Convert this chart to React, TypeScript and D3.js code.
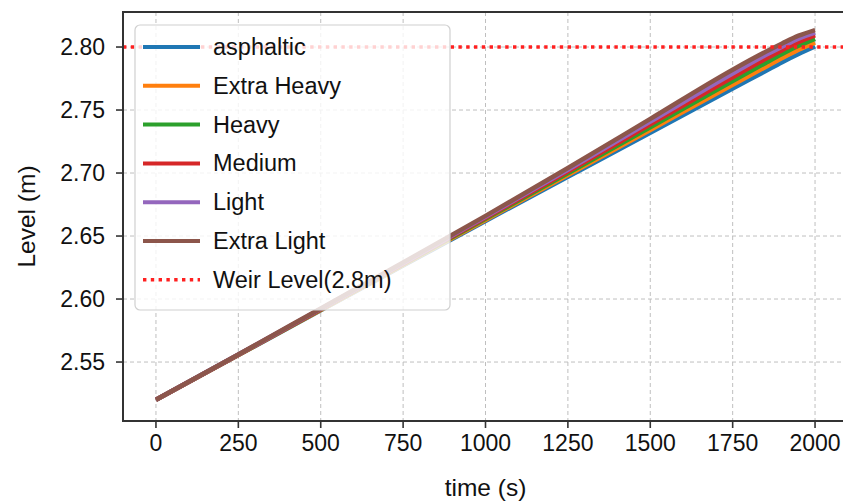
import React from "react";
import * as d3 from "d3";

const times = [0, 250, 500, 750, 1000, 1250, 1500, 1750, 1850, 1900, 1950, 2000];
const asphaltic = [2.520, 2.5555, 2.591, 2.6265, 2.662, 2.697, 2.732, 2.767, 2.781, 2.788, 2.7945, 2.8005];
const extraHeavy = [2.520, 2.5556, 2.5913, 2.627, 2.6628, 2.6984, 2.7342, 2.770, 2.7842, 2.7912, 2.7978, 2.8035];
const heavy = [2.520, 2.5557, 2.5916, 2.6275, 2.6636, 2.6998, 2.7364, 2.773, 2.7874, 2.7944, 2.801, 2.8065];
const medium = [2.520, 2.5558, 2.5919, 2.628, 2.6644, 2.7012, 2.7386, 2.776, 2.7906, 2.7975, 2.804, 2.8092];
const light = [2.520, 2.5559, 2.5922, 2.6285, 2.6652, 2.7026, 2.7408, 2.779, 2.7936, 2.8003, 2.8067, 2.8115];
const extraLight = [2.520, 2.556, 2.5925, 2.629, 2.666, 2.704, 2.743, 2.782, 2.7962, 2.8028, 2.809, 2.8135];

const seriesNames = ["asphaltic", "Extra Heavy", "Heavy", "Medium", "Light", "Extra Light"];
const seriesValues = [asphaltic, extraHeavy, heavy, medium, light, extraLight];
const seriesColors = ["#1f77b4", "#ff7f0e", "#2ca02c", "#d62728", "#9467bd", "#8c564b"];
const weirLevel = 2.8;
const weirLabel = "Weir Level(2.8m)";

const xTicks = [0, 250, 500, 750, 1000, 1250, 1500, 1750, 2000];
const yTicks = [2.55, 2.6, 2.65, 2.7, 2.75, 2.8];

const W = 843, H = 501;
const L = 123, R = 848, T = 12, B = 421;
const FONT = "'Liberation Sans', Arial, Helvetica, sans-serif";

export default function App() {
  const x = d3.scaleLinear().domain([-100, 2100]).range([L, R]);
  const y = d3.scaleLinear().domain([2.5032, 2.8278]).range([B, T]);
  const line = d3
    .line<[number, number]>()
    .x((d) => x(d[0]))
    .y((d) => y(d[1]))
    .curve(d3.curveMonotoneX);

  const legX = 135, legY = 25, legW = 315, legH = 285;
  const rowY0 = 47, rowStep = 38.8;

  return (
    <svg width={W} height={H} style={{ position: "absolute", left: 0, top: 0, background: "#fff" }} fontFamily={FONT}>
      <defs>
        <clipPath id="plot">
          <rect x={L} y={T} width={R - L} height={B - T} />
        </clipPath>
      </defs>
      <rect x={0} y={0} width={W} height={H} fill="#fff" />
      {/* grid */}
      <g stroke="#b0b0b0" strokeWidth={1} strokeDasharray="4,3" opacity={0.8}>
        {xTicks.map((t) => (
          <line key={"gx" + t} x1={x(t)} x2={x(t)} y1={T} y2={B} />
        ))}
        {yTicks.map((t) => (
          <line key={"gy" + t} x1={L} x2={R} y1={y(t)} y2={y(t)} />
        ))}
      </g>
      <g clipPath="url(#plot)">
        {seriesValues.map((vals, i) => (
          <path
            key={seriesNames[i]}
            d={line(times.map((t, j) => [t, vals[j]] as [number, number])) || ""}
            fill="none"
            stroke={seriesColors[i]}
            strokeWidth={4.5}
            strokeLinecap="butt"
          />
        ))}
        <line
          x1={L}
          x2={R}
          y1={y(weirLevel)}
          y2={y(weirLevel)}
          stroke="#ff2020"
          strokeWidth={3.4}
          strokeDasharray="3.4,4.4"
        />
      </g>
      {/* spines */}
      <rect x={L} y={T} width={R - L} height={B - T} fill="none" stroke="#333" strokeWidth={2} />
      {/* ticks */}
      <g stroke="#333" strokeWidth={1.6}>
        {xTicks.map((t) => (
          <line key={"tx" + t} x1={x(t)} x2={x(t)} y1={B} y2={B + 7} />
        ))}
        {yTicks.map((t) => (
          <line key={"ty" + t} x1={L - 7} x2={L} y1={y(t)} y2={y(t)} />
        ))}
      </g>
      <g fontSize={23} fill="#111">
        {xTicks.map((t) => (
          <text key={"lx" + t} x={x(t)} y={B + 30} textAnchor="middle">
            {t}
          </text>
        ))}
        {yTicks.map((t) => (
          <text key={"ly" + t} x={L - 18} y={y(t) + 8} textAnchor="end">
            {t.toFixed(2)}
          </text>
        ))}
      </g>
      <text x={(L + R) / 2} y={496} fontSize={24.5} textAnchor="middle" fill="#111">
        time (s)
      </text>
      <text
        transform={`translate(35,${(T + B) / 2}) rotate(-90)`}
        fontSize={24.5}
        textAnchor="middle"
        fill="#111"
      >
        Level (m)
      </text>
      {/* legend */}
      <rect x={legX} y={legY} width={legW} height={legH} rx={5} fill="#fff" fillOpacity={0.8} stroke="#d0d0d0" strokeWidth={1.2} />
      {seriesNames.map((n, i) => (
        <g key={"leg" + n}>
          <line x1={143} x2={200} y1={rowY0 + i * rowStep} y2={rowY0 + i * rowStep} stroke={seriesColors[i]} strokeWidth={4} />
          <text x={213} y={rowY0 + i * rowStep + 8} fontSize={23.5} fill="#111">
            {n}
          </text>
        </g>
      ))}
      <line
        x1={143}
        x2={200}
        y1={rowY0 + 6 * rowStep}
        y2={rowY0 + 6 * rowStep}
        stroke="#ff2020"
        strokeWidth={3.4}
        strokeDasharray="3.4,4.4"
      />
      <text x={213} y={rowY0 + 6 * rowStep + 8} fontSize={23.5} fill="#111">
        {weirLabel}
      </text>
    </svg>
  );
}
